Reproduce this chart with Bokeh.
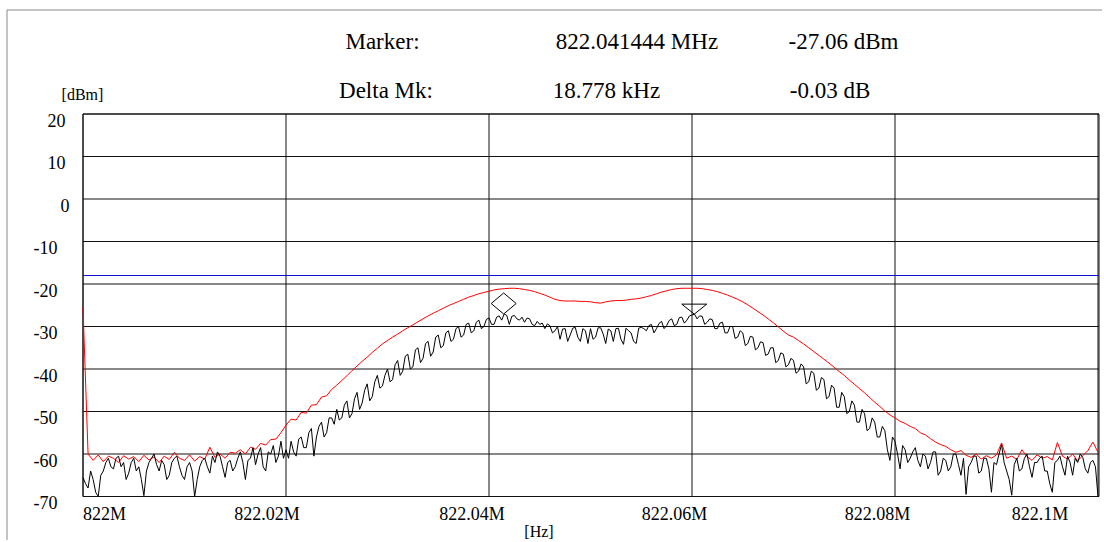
from bokeh.plotting import figure
from bokeh.models import Range1d
from bokeh.core.properties import value
from bokeh.embed import file_html
from bokeh.resources import INLINE

# ---------------- data ----------------
start_hz = 822.0e6
red_step_hz = 500.0
black_step_hz = 250.0

red_dbm = [
    -25.5, -60.0, -61.5, -60.2, -61.8, -60.5, -61.0, -62.0, -60.4, -61.2,
    -60.6, -61.8, -60.3, -61.4, -60.7, -62.0, -60.5, -61.3, -59.6, -61.0,
    -61.5, -60.2, -61.7, -60.6, -61.2, -58.4, -60.8, -60.0, -61.0, -59.6,
    -59.8, -59.0, -60.0, -58.4, -58.9, -57.5, -57.9, -56.6, -56.5, -55.0,
    -53.2, -51.8, -52.0, -50.2, -50.4, -48.5, -48.4, -46.6, -46.3, -44.8,
    -43.8, -42.7, -41.6, -40.4, -39.3, -38.2, -37.2, -36.1, -35.1, -34.1,
    -33.3, -32.5, -31.8, -31.0, -30.3, -29.6, -28.9, -28.2, -27.5, -26.9,
    -26.3, -25.7, -25.1, -24.6, -24.1, -23.6, -23.1, -22.7, -22.3, -22.0,
    -21.7, -21.4, -21.2, -21.1, -21.0, -21.0, -21.1, -21.3, -21.5, -21.8,
    -22.2, -22.6, -23.1, -23.6, -23.9, -24.0, -24.0, -24.0, -24.1, -24.1,
    -24.2, -24.4, -24.5, -24.2, -24.0, -23.9, -23.9, -23.8, -23.6, -23.5,
    -23.3, -23.0, -22.7, -22.3, -21.9, -21.6, -21.3, -21.1, -21.0, -21.0,
    -21.0, -21.0, -21.1, -21.3, -21.5, -21.8, -22.2, -22.6, -23.1, -23.6,
    -24.2, -24.9, -25.7, -26.5, -27.3, -28.2, -29.1, -30.1, -31.1, -32.0,
    -32.5, -33.3, -34.1, -35.0, -35.9, -36.8, -37.7, -38.6, -39.6, -40.6,
    -41.5, -42.6, -43.6, -44.6, -45.6, -46.7, -47.8, -48.8, -49.9, -50.8,
    -51.5, -52.3, -52.8, -53.5, -54.0, -55.0, -55.5, -56.4, -57.2, -57.8,
    -58.2, -59.0, -59.6, -59.2, -60.3, -60.8, -60.0, -61.2, -60.4, -61.0,
    -60.2, -57.4, -61.0, -60.5, -61.3, -59.0, -60.6, -61.5, -60.2, -61.0,
    -60.6, -61.4, -57.3, -60.5, -61.2, -60.0, -61.6, -60.4, -59.2, -57.2,
    -59.6,
]

black_dbm = [
    # 0 - 4.75 kHz
    -65.5, -67.0, -68.0, -64.0, -66.0, -69.0, -70.0, -65.0, -64.0, -62.0,
    -61.0, -63.0, -63.5, -61.0, -60.5, -63.0, -62.0, -66.0, -64.5, -62.0,
    # 5 - 9.75 kHz
    -61.0, -64.0, -63.0, -66.0, -69.8, -64.0, -62.0, -61.0, -60.0, -62.5,
    -64.0, -61.5, -62.5, -66.0, -65.0, -62.0, -61.0, -60.5, -63.0, -65.0,
    # 10 - 14.75 kHz
    -66.0, -63.0, -62.0, -64.0, -70.0, -66.0, -63.0, -61.5, -61.0, -63.0,
    -64.5, -60.5, -62.0, -59.5, -60.5, -63.0, -65.5, -62.0, -61.5, -64.0,
    # 15 - 19.75 kHz
    -63.0, -61.0, -59.5, -62.0, -66.0, -61.5, -61.0, -58.5, -62.5, -60.0,
    -58.5, -63.0, -64.0, -59.5, -60.0, -58.0, -62.0, -60.5, -57.0, -61.0,
    # 20 - 24.75 kHz
    -59.0, -61.0, -57.0, -59.5, -60.5, -56.5, -56.0, -58.5, -58.5, -55.0,
    -54.0, -60.5, -56.0, -53.5, -52.5, -56.0, -55.0, -51.5, -51.5, -53.0,
    # 25 - 29.75 kHz
    -49.5, -52.0, -51.5, -48.5, -47.5, -51.5, -50.5, -47.0, -45.5, -49.5,
    -48.0, -45.0, -43.5, -47.5, -46.5, -43.0, -41.5, -44.5, -44.0, -41.5,
    # 30 - 34.75 kHz
    -40.0, -43.0, -42.5, -39.0, -38.0, -41.5, -40.5, -37.0, -36.5, -40.0,
    -39.5, -35.5, -35.0, -38.5, -37.5, -34.0, -33.5, -37.0, -36.0, -32.5,
    # 35 - 39.75 kHz
    -32.0, -35.0, -34.5, -31.5, -31.0, -33.5, -33.0, -30.5, -30.0, -32.5,
    -32.0, -29.5, -29.2, -31.5, -31.0, -29.0, -28.5, -30.5, -30.0, -28.3,
    # 40 - 44.75 kHz
    -28.0, -29.5, -29.5, -27.8, -27.5, -28.5, -27.06, -27.4, -29.5, -27.6,
    -27.4, -28.2, -28.5, -27.8, -29.0, -28.0, -28.2, -29.5, -29.8, -28.8,
    # 45 - 49.75 kHz
    -29.5, -29.2, -30.5, -29.4, -29.8, -31.5, -31.0, -30.0, -33.0, -30.6,
    -30.5, -33.5, -32.0, -30.4, -30.2, -32.5, -33.5, -30.5, -31.0, -34.0,
    # 50 - 54.75 kHz
    -30.5, -33.0, -32.5, -30.3, -30.3, -31.8, -34.0, -30.6, -31.0, -33.5,
    -30.5, -30.4, -33.0, -34.2, -30.4, -31.0, -31.5, -33.5, -34.0, -30.4,
    # 55 - 59.75 kHz
    -30.2, -30.5, -31.0, -29.8, -29.5, -31.5, -30.5, -29.3, -28.8, -30.5,
    -29.8, -28.6, -28.2, -29.8, -29.5, -27.9, -27.8, -29.2, -28.5, -27.5,
    # 60 - 64.75 kHz
    -27.3, -27.09, -28.2, -27.5, -27.6, -29.5, -29.0, -28.2, -28.4, -30.5,
    -30.5, -29.2, -29.0, -31.5, -31.5, -30.0, -30.0, -32.8, -32.5, -31.0,
    # 65 - 69.75 kHz
    -31.5, -34.5, -34.0, -32.3, -32.5, -35.5, -35.0, -33.6, -33.8, -36.8,
    -36.5, -35.0, -35.0, -38.5, -38.0, -36.2, -36.5, -39.5, -39.0, -37.5,
    # 70 - 74.75 kHz
    -38.0, -41.0, -40.5, -38.8, -39.5, -43.5, -43.0, -40.5, -41.0, -45.0,
    -44.5, -42.0, -42.5, -47.0, -46.5, -43.8, -44.5, -49.0, -49.0, -45.5,
    # 75 - 79.75 kHz
    -46.5, -50.5, -50.0, -47.5, -48.5, -52.5, -52.5, -49.5, -50.5, -54.5,
    -54.0, -51.5, -52.5, -56.0, -56.0, -53.5, -54.5, -59.0, -61.5, -56.0,
    # 80 - 84.75 kHz
    -57.0, -60.0, -63.5, -58.0, -59.0, -62.0, -61.0, -59.5, -58.5, -61.5,
    -63.0, -60.0, -60.5, -63.5, -62.0, -59.5, -59.5, -65.0, -64.0, -61.0,
    # 85 - 89.75 kHz
    -61.5, -64.0, -63.0, -60.0, -60.0, -62.5, -65.0, -61.0, -69.5, -63.0,
    -62.0, -60.5, -60.5, -64.5, -64.0, -61.0, -61.0, -63.5, -69.0, -62.0,
    # 90 - 94.75 kHz
    -62.5, -60.0, -57.8, -62.0, -64.0, -66.0, -69.7, -62.5, -61.0, -64.0,
    -63.5, -61.0, -60.0, -63.0, -65.5, -62.0, -62.0, -61.0, -60.5, -64.0,
    # 95 - 99.75 kHz
    -64.0, -67.0, -69.0, -62.0, -61.5, -60.5, -63.0, -65.0, -60.5, -62.0,
    -65.0, -61.0, -62.0, -60.0, -60.8, -63.5, -64.5, -62.0, -61.5, -63.0,
    # 100 kHz
    -70.0,
]

red_hz = [start_hz + i * red_step_hz for i in range(len(red_dbm))]
black_hz = [start_hz + i * black_step_hz for i in range(len(black_dbm))]

x_ticks = [822.00e6, 822.02e6, 822.04e6, 822.06e6, 822.08e6, 822.10e6]
x_tick_labels = ["822M", "822.02M", "822.04M", "822.06M", "822.08M", "822.1M"]
y_ticks = [20, 10, 0, -10, -20, -30, -40, -50, -60, -70]
y_tick_labels = ["20", "10", "0", "-10", "-20", "-30", "-40", "-50", "-60", "-70"]

limit_dbm = -18.0
marker_hz = 822.041444e6
marker_dbm = -27.06
delta_hz = 18.778e3
delta_db = -0.03

marker_title = "Marker:"
marker_freq_text = "822.041444 MHz"
marker_level_text = "-27.06 dBm"
delta_title = "Delta Mk:"
delta_freq_text = "18.778 kHz"
delta_level_text = "-0.03 dB"
y_unit_text = "[dBm]"
x_unit_text = "[Hz]"

# ---------------- layout geometry (pixels) ----------------
W, H = 1102, 540
F_LO, F_HI = 822.0e6, 822.0e6 + 100098.5   # chart frequency span
DB_LO, DB_HI = -70.0, 20.0
CH_L, CH_R, CH_T, CH_B = 82.5, 1098.5, 113.5, 496.0  # chart box in pixels

sx_per_hz = (CH_R - CH_L) / (F_HI - F_LO)
sy_per_db = (CH_B - CH_T) / (DB_HI - DB_LO)


def hz(px):
    return F_LO + (px - CH_L) / sx_per_hz


def db(py):
    return DB_HI - (py - CH_T) / sy_per_db


FONT = "Liberation Serif"

p = figure(width=W, height=H,
           x_range=Range1d(hz(0), hz(W)), y_range=Range1d(db(H), db(0)),
           output_backend="svg", toolbar_location=None,
           min_border=0, min_border_left=0, min_border_right=0,
           min_border_top=0, min_border_bottom=0)
p.xaxis.visible = False
p.yaxis.visible = False
p.xgrid.visible = False
p.ygrid.visible = False
p.outline_line_color = None
p.background_fill_color = "white"
p.border_fill_color = "white"

GRID = "#111111"
# outer page frame (gray)
p.segment(x0=[hz(6.5), hz(6.5)], y0=[db(9.5), db(9.5)],
          x1=[hz(6.5), hz(W)], y1=[db(H), db(9.5)],
          line_color="#8a8a8a", line_width=1)

# grid
p.segment(x0=x_ticks, y0=DB_LO, x1=x_ticks, y1=DB_HI, line_color=GRID, line_width=1)
p.segment(x0=F_LO, y0=y_ticks, x1=F_HI, y1=y_ticks, line_color=GRID, line_width=1)
p.quad(left=F_LO, right=F_HI, bottom=DB_LO, top=DB_HI,
       fill_alpha=0, line_color=GRID, line_width=1)

# limit line
p.segment(x0=F_LO, y0=limit_dbm, x1=F_HI, y1=limit_dbm, line_color="#1010d0", line_width=1)

# traces
p.line(red_hz, red_dbm, line_color="#ff0000", line_width=1)
p.line(black_hz, black_dbm, line_color="#000000", line_width=1)

# marker symbols
hw_hz = 12.5 / sx_per_hz
dia_h = 21 / sy_per_db
tri_h = 10 / sy_per_db
p.patch([marker_hz - hw_hz, marker_hz, marker_hz + hw_hz, marker_hz],
        [marker_dbm + dia_h / 2, marker_dbm + dia_h, marker_dbm + dia_h / 2, marker_dbm],
        fill_alpha=0, line_color="black", line_width=1)
dx = marker_hz + delta_hz
dy = marker_dbm + delta_db
p.patch([dx - hw_hz, dx + hw_hz, dx],
        [dy + tri_h, dy + tri_h, dy],
        fill_alpha=0, line_color="black", line_width=1)


# ---------------- texts ----------------
def txt(xs, ys, texts, size, align="left", baseline="alphabetic"):
    p.text(x=xs, y=ys, text=texts, text_font=value(FONT),
           text_font_size=value(f"{size}px"), text_color="#000000",
           text_align=align, text_baseline=baseline)


# header
txt([hz(382), hz(385.5), hz(636.5), hz(843), hz(606), hz(829.5)],
    [db(41), db(90), db(41), db(41), db(90), db(90)],
    [marker_title, delta_title, marker_freq_text, marker_level_text,
     delta_freq_text, delta_level_text], 23, align="center")

# unit labels
txt([hz(82)], [db(93.5)], [y_unit_text], 16, align="center", baseline="middle")
txt([hz(538.5)], [db(531)], [x_unit_text], 16, align="center", baseline="middle")

# x tick labels: first one left aligned at chart edge, the rest centred, shifted left
lab_shift_px = [0, -19, -17, -17.5, -17.5, -58]
xs = [v + s / sx_per_hz for v, s in zip(x_ticks, lab_shift_px)]
txt(xs[:1], [db(513.5)], x_tick_labels[:1], 18, baseline="middle")
txt(xs[1:], [db(513.5)] * (len(xs) - 1), x_tick_labels[1:], 18, align="center", baseline="middle")

# y tick labels (right aligned, sitting just below their grid line)
right_px = [65 if v > 0 else (69 if v == 0 else 57) for v in y_ticks]
txt([hz(r) for r in right_px], [v - 6 / sy_per_db for v in y_ticks], y_tick_labels, 18,
    align="right", baseline="middle")

open("out.html", "w").write(file_html(p, INLINE))
